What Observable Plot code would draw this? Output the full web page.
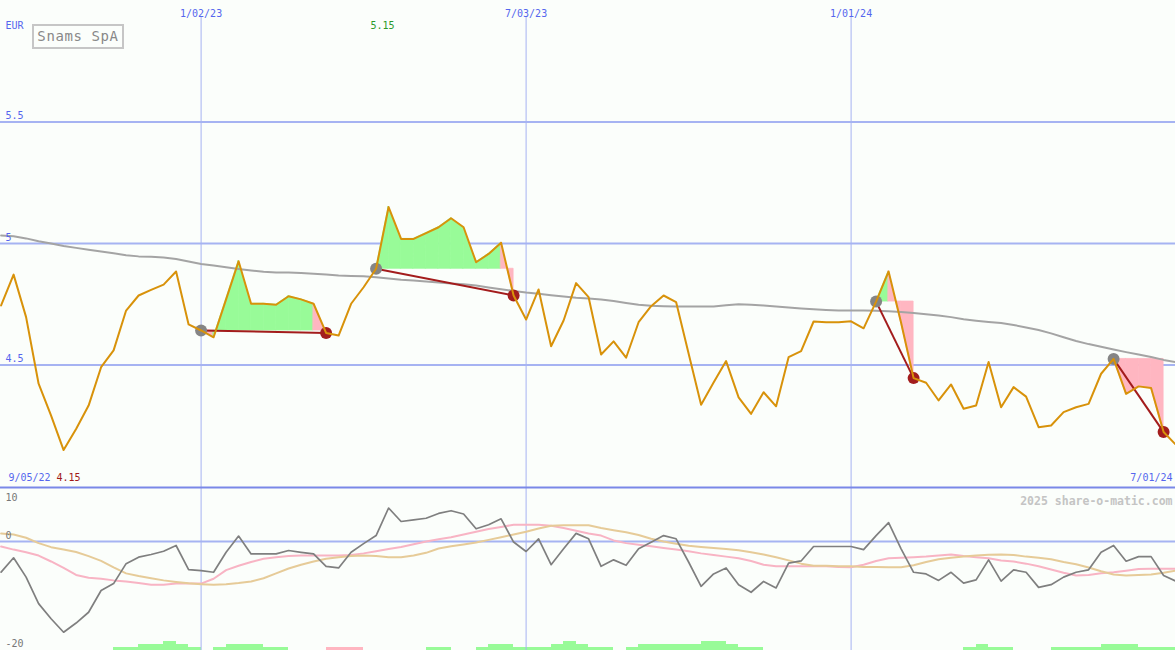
<!DOCTYPE html>
<html>
<head>
<meta charset="utf-8">
<script src="https://cdn.jsdelivr.net/npm/d3@7"></script>
<script src="https://cdn.jsdelivr.net/npm/@observablehq/plot@0.6"></script>
<style>
  html, body { margin: 0; padding: 0; background: #fbfefb; }
  #chart { position: relative; width: 1175px; height: 650px; overflow: hidden; background: #fbfefb; }
  #chart svg { position: absolute; left: 0; }
  #title { position: absolute; z-index: 5; left: 32px; top: 24px; width: 88px; height: 21px;
    border: 2px solid #c6c6c6; color: #888888; background: #fbfefb;
    font: 14px "DejaVu Sans Mono", monospace; letter-spacing: 0.6px; line-height: 21px; text-align: center; }
</style>
</head>
<body>
<div id="chart"><div id="title">Snams SpA</div></div>
<script>
// ---------- data (weekly closes, first week 2022-09-12) ----------
const firstWeek = "2022-09-12";
const price = [
  4.745, 4.872, 4.697, 4.423, 4.292, 4.15, 4.237, 4.333, 4.491, 4.56,
  4.724, 4.786, 4.809, 4.831, 4.885, 4.667,
  4.642, 4.614, 4.77, 4.927, 4.752, 4.752, 4.748, 4.783, 4.770, 4.752,
  4.632, 4.621, 4.752, 4.82, 4.896, 5.15, 5.019, 5.019, 5.043, 5.067,
  5.104, 5.067, 4.923, 4.957, 5.003, 4.786, 4.687, 4.811, 4.577, 4.683,
  4.837, 4.779, 4.543, 4.597, 4.530, 4.676, 4.742, 4.786, 4.759, 4.547,
  4.336, 4.428, 4.516, 4.367, 4.299, 4.388, 4.33, 4.532, 4.557, 4.679,
  4.676, 4.676, 4.68, 4.651, 4.761, 4.885, 4.674, 4.446, 4.427, 4.354,
  4.42, 4.32, 4.333, 4.512, 4.326, 4.409, 4.37, 4.244, 4.251, 4.306,
  4.326, 4.34, 4.464, 4.525, 4.381, 4.412, 4.405, 4.224, 4.171
];
const movingAvg = [
  5.033, 5.030, 5.021, 5.009, 5.0, 4.990, 4.982, 4.974, 4.967, 4.960,
  4.952, 4.947, 4.945, 4.942, 4.936, 4.926,
  4.916, 4.909, 4.902, 4.895, 4.889, 4.884, 4.881, 4.881, 4.879, 4.876,
  4.872, 4.868, 4.866, 4.865, 4.861, 4.856, 4.851, 4.848, 4.844, 4.84,
  4.835, 4.832, 4.827, 4.819, 4.812, 4.805, 4.798, 4.793, 4.787, 4.782,
  4.777, 4.774, 4.770, 4.763, 4.755, 4.748, 4.744, 4.742, 4.741, 4.741,
  4.741, 4.741, 4.746, 4.75, 4.748, 4.745, 4.741, 4.737, 4.733, 4.729,
  4.726, 4.724, 4.724, 4.724, 4.723, 4.721, 4.718, 4.714, 4.709, 4.704,
  4.697, 4.688, 4.682, 4.677, 4.673, 4.665, 4.654, 4.644, 4.630, 4.614,
  4.599, 4.586, 4.575, 4.564, 4.553, 4.543, 4.533, 4.521, 4.512
];
const momentum = [
  -5.68, -3.02, -6.6, -11.5, -14.3, -16.8, -15.1, -13.1, -9.07, -7.8,
  -4.1, -2.9, -2.4, -1.8, -0.74, -5.2,
  -5.4, -5.7, -2, 1, -2.3, -2.3, -2.3, -1.67, -2, -2.3,
  -4.6, -4.9, -2, -0.4, 1.1, 6.2, 3.7, 4, 4.3, 5.2,
  5.7, 5.1, 2.35, 3.1, 4.2, -0.1, -1.85, 0.5, -4.3, -1.35,
  1.5, 0.5, -4.6, -3.4, -4.4, -1.35, -0.12, 1.1, 0.5, -3.8,
  -8.3, -6, -4.9, -8, -9.4, -7.4, -8.6, -4, -3.6, -0.93,
  -0.93, -0.93, -0.93, -1.5, 1.1, 3.5, -1.35, -5.7, -6, -7.2,
  -5.7, -7.7, -7.1, -3.4, -7.35, -5.25, -5.7, -8.5, -8, -6.6,
  -5.7, -5.25, -2, -0.74, -3.65, -2.8, -2.8, -6.3, -7.35
];
const signalPink = [
  -0.93, -1.5, -2.0, -2.6, -3.7, -4.9, -6.2, -6.7, -6.9, -7.2,
  -7.4, -7.7, -8.0, -8.0, -7.8, -7.8,
  -7.8, -6.9, -5.3, -4.5, -3.8, -3.2, -2.9, -2.7, -2.6, -2.6,
  -2.6, -2.6, -2.5, -2.2, -1.8, -1.4, -1.0, -0.5, 0.0, 0.4,
  0.8, 1.3, 1.8, 2.3, 2.7, 3.1, 3.1, 3.1, 2.9, 2.5,
  2.0, 1.5, 1.1, 0.2, -0.3, -0.6, -0.9, -1.2, -1.5, -1.8,
  -2.2, -2.5, -2.8, -3.1, -3.6, -4.3, -4.6, -4.6, -4.6, -4.6,
  -4.6, -4.7, -4.75, -4.3, -3.6, -3.1, -3.0, -2.9, -2.8, -2.6,
  -2.4, -2.7, -2.9, -3.1, -3.5, -3.7, -4.1, -4.6, -5.2, -5.8,
  -6.3, -6.2, -5.9, -5.7, -5.4, -5.1, -5.06, -5.06, -5.06
];
const signalTan = [
  1.5, 1.3, 0.7, -0.3, -1.05, -1.5, -1.95, -2.7, -3.6, -4.8,
  -5.9, -6.4, -6.8, -7.2, -7.5, -7.75,
  -7.9, -8.0, -7.9, -7.7, -7.4, -6.8, -5.9, -5.0, -4.3, -3.7,
  -3.2, -2.9, -2.7, -2.6, -2.7, -2.9, -2.9, -2.6, -2.1, -1.3,
  -0.9, -0.55, -0.2, 0.3, 0.8, 1.3, 1.8, 2.4, 2.9, 3.0,
  3.0, 3.0, 2.5, 2.1, 1.7, 1.2, 0.5, 0.0, -0.4, -0.8,
  -1.0, -1.2, -1.4, -1.6, -2.0, -2.4, -2.9, -3.5, -4.1, -4.5,
  -4.5, -4.6, -4.6, -4.7, -4.7, -4.75, -4.75, -4.4, -3.8, -3.3,
  -3.0, -2.8, -2.6, -2.45, -2.4, -2.5, -2.8, -3.0, -3.3, -3.8,
  -4.2, -4.8, -5.5, -6.1, -6.3, -6.2, -6.1, -5.8, -5.4
];
// histogram (positive = green, negative = pink)
const histogram = [
  0, 0, 0, 0, 0, 0, 0, 0, 0, 1,
  1, 2, 2, 3, 2, 1,
  0, 1, 2, 2, 2, 1, 1, 0, 0, 0,
  -1, -1, -1, 0, 0, 0, 0, 0, 1, 1,
  0, 0, 1, 2, 2, 1, 1, 1, 2, 3,
  2, 1, 1, 0, 1, 2, 2, 2, 2, 2,
  3, 3, 2, 1, 1, 0, 0, 0, 0, 0,
  0, 0, 0, 0, 0, 0, 0, 0, 0, 0,
  0, 1, 2, 1, 1, 0, 0, 0, 1, 1,
  1, 1, 2, 2, 2, 1, 1, 1, 0
];
const tradeBuys  = ["2023-01-02", "2023-04-10", "2024-01-15", "2024-05-27"];
const tradeSells = ["2023-03-13", "2023-06-26", "2024-02-05", "2024-06-24"];
const tickDates  = ["2023-01-02", "2023-07-03", "2024-01-01"];
const tickLabels = ["1/02/23", "7/03/23", "1/01/24"];
const priceTicks = [5.5, 5, 4.5];
const priceTickLabels = ["5.5", "5", "4.5"];
const oscTicks = [10, 0, -20];
const oscTickLabels = ["10", "0", "-20"];
const startLabel = "9/05/22";
const endLabel = "7/01/24";
const currency = "EUR";
const credit = "2025 share-o-matic.com";

// ---------- derived tables ----------
const dates = price.map((_, i) => d3.utcDay.offset(new Date(firstWeek), 7 * i));
const rows = dates.map((date, i) => ({
  date, price: price[i], ma: movingAvg[i], mom: momentum[i],
  pink: signalPink[i], tan: signalTan[i], hist: histogram[i]
}));
const idx = s => dates.findIndex(d => +d === +new Date(s));
const trades = tradeBuys.map((b, i) => ({b: idx(b), s: idx(tradeSells[i])}));
const GREEN = "#98fb98", PINK = "#ffb6c1";
const fills = [];
trades.forEach((t, ti) => {
  const entry = price[t.b];
  for (let i = t.b; i < t.s; i++) {
    const col = price[i + 1] >= entry ? GREEN : PINK;
    const seg = ti + "-" + i;
    fills.push({date: dates[i], y1: entry, y2: price[i], seg, col});
    fills.push({date: dates[i + 1], y1: entry, y2: price[i + 1], seg, col});
  }
});
const bars = [];
rows.forEach((r, i) => {
  if (i < rows.length - 1 && r.hist !== 0)
    bars.push({x1: dates[i], x2: dates[i + 1], v: Math.abs(r.hist), col: r.hist > 0 ? GREEN : PINK});
});
const iMax = d3.maxIndex(price), iMin = d3.minIndex(price);

const FONT = "DejaVu Sans Mono";
const BLUE = "#5566ee";
const GRID = "#a6b3f2";
const xScale = {type: "utc", domain: [new Date("2022-09-11T16:00Z"), new Date("2024-06-30T16:00Z")], axis: null};
const base = {width: 1175, marginLeft: 0, marginRight: 0, marginTop: 0, marginBottom: 0,
  style: {background: "transparent", overflow: "visible"}};
const tDates = tickDates.map(d => new Date(d));

// ---------- top price panel ----------
const pricePlot = Plot.plot({
  ...base, height: 488,
  x: xScale,
  y: {domain: [4, 6], range: [486, 0], axis: null},
  marks: [
    Plot.ruleX(tDates, {x: d => d, stroke: GRID, strokeWidth: 1, insetTop: 16}),
    Plot.ruleY(priceTicks, {y: d => d, stroke: GRID, strokeWidth: 2}),
    Plot.areaY(fills, {x: "date", y1: "y1", y2: "y2", z: "seg", fill: "col", stroke: "col", strokeWidth: 0.8}),
    Plot.line(rows, {x: "date", y: "ma", stroke: "#a4a4a4", strokeWidth: 2}),
    Plot.link(trades, {x1: d => dates[d.b], y1: d => price[d.b], x2: d => dates[d.s], y2: d => price[d.s],
      stroke: "#a31c1c", strokeWidth: 2}),
    Plot.dot(trades, {x: d => dates[d.b], y: d => price[d.b], r: 6, fill: "#858585"}),
    Plot.dot(trades, {x: d => dates[d.s], y: d => price[d.s], r: 6, fill: "#a31d1d"}),
    Plot.line(rows, {x: "date", y: "price", stroke: "#d8920a", strokeWidth: 2}),
    Plot.ruleY([4], {stroke: "#7a88e8", strokeWidth: 2, dy: 1}),
    Plot.text(tickLabels, {x: (d, i) => tDates[i], frameAnchor: "top", dy: 9, fill: BLUE, fontFamily: FONT, fontSize: 10}),
    Plot.text([currency], {frameAnchor: "top-left", dx: 5, dy: 21, textAnchor: "start", fill: BLUE, fontFamily: FONT, fontSize: 10}),
    Plot.text(priceTickLabels, {y: (d, i) => priceTicks[i], frameAnchor: "left", dx: 5, dy: -6, textAnchor: "start", fill: BLUE, fontFamily: FONT, fontSize: 10}),
    Plot.text([price[iMax]], {x: () => dates[iMax], frameAnchor: "top", dx: -6, dy: 21, text: d => d.toFixed(2), fill: "#2c9a2c", fontFamily: FONT, fontSize: 10}),
    Plot.text([startLabel], {frameAnchor: "bottom-left", dx: 8, dy: -8, textAnchor: "start", fill: BLUE, fontFamily: FONT, fontSize: 10}),
    Plot.text([price[iMin]], {frameAnchor: "bottom-left", dx: 56, dy: -8, textAnchor: "start", text: d => d.toFixed(2), fill: "#a01818", fontFamily: FONT, fontSize: 10}),
    Plot.text([endLabel], {frameAnchor: "bottom-right", dx: -3, dy: -8, textAnchor: "end", fill: BLUE, fontFamily: FONT, fontSize: 10})
  ]
});
pricePlot.style.top = "0px";

// ---------- bottom oscillator panel ----------
const oscPlot = Plot.plot({
  ...base, height: 163,
  x: xScale,
  y: {domain: [-20, 10], range: [162, 0], axis: null},
  marks: [
    Plot.ruleX(tDates, {x: d => d, stroke: GRID, strokeWidth: 1}),
    Plot.ruleY([0], {stroke: GRID, strokeWidth: 2}),
    Plot.line(rows, {x: "date", y: "pink", stroke: "#f8b4c4", strokeWidth: 2}),
    Plot.line(rows, {x: "date", y: "tan", stroke: "#e6cb98", strokeWidth: 2}),
    Plot.line(rows, {x: "date", y: "mom", stroke: "#7f7f7f", strokeWidth: 1.7}),
    Plot.text([oscTickLabels[0]], {y: () => oscTicks[0], frameAnchor: "left", dx: 5, dy: 10, textAnchor: "start", fill: "#777777", fontFamily: FONT, fontSize: 10}),
    Plot.text(oscTickLabels.slice(1), {y: (d, i) => oscTicks[i + 1], frameAnchor: "left", dx: 5, dy: -6, textAnchor: "start", fill: "#777777", fontFamily: FONT, fontSize: 10}),
    Plot.text([credit], {frameAnchor: "top-right", dx: -3, dy: 9, textAnchor: "end", fill: "#c4c4c4", fontFamily: FONT, fontSize: 11.5, fontWeight: "bold"})
  ]
});
oscPlot.style.top = "487px";

// ---------- histogram strip ----------
const histPlot = Plot.plot({
  ...base, height: 163,
  x: xScale,
  y: {domain: [0, 54], axis: null},
  marks: [
    Plot.rectY(bars, {x1: "x1", x2: "x2", y1: 0, y2: "v", fill: "col", shapeRendering: "crispEdges"})
  ]
});
histPlot.style.top = "487px";

const chart = document.getElementById("chart");
chart.appendChild(histPlot);
chart.appendChild(oscPlot);
chart.appendChild(pricePlot);
</script>
</body>
</html>
